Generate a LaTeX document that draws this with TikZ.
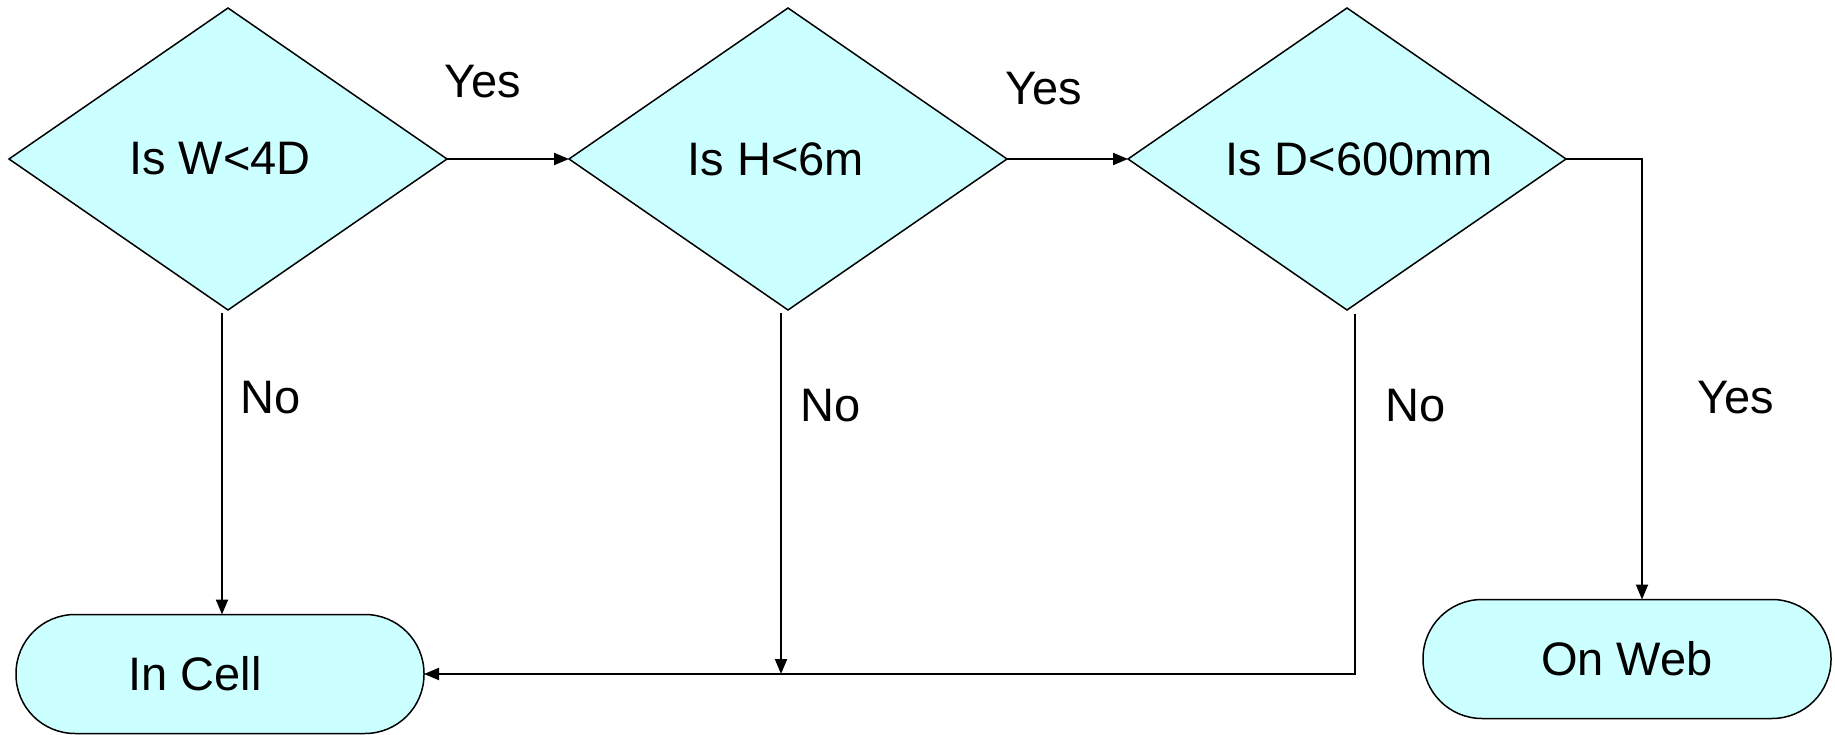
\documentclass[tikz,border=0pt]{standalone}
\usepackage{fontspec}
\setmainfont{Liberation Sans}
\usetikzlibrary{shapes.geometric,arrows.meta}
\definecolor{boxfill}{HTML}{CCFFFF}
\begin{document}
\begin{tikzpicture}[x=1pt,y=1pt,
  decision/.style={diamond,draw=black,fill=boxfill,line width=1.5pt,
    minimum width=438pt,minimum height=302pt,inner sep=0pt,outer sep=0pt},
  terminal/.style={rectangle,rounded corners=59pt,draw=black,fill=boxfill,line width=1.5pt,
    minimum width=408pt,minimum height=119pt,inner sep=0pt,outer sep=0pt},
  conn/.style={draw=black,line width=2pt,-{Triangle[length=15pt,width=12pt]}},
  lbl/.style={font=\fontsize{47}{56}\selectfont,inner sep=0pt}]
\useasboundingbox (0,0) rectangle (1835,734);
\node[decision,label={[lbl,xshift=-8pt]center:Is W<4D}] (d1) at (228,575) {};
\node[decision,label={[lbl,xshift=-12pt]center:Is H<6m}] (d2) at (788,575) {};
\node[decision,label={[lbl,xshift=12pt]center:Is D<600mm}] (d3) at (1347,575) {};
\node[terminal,label={[lbl,xshift=-25pt]center:In Cell}] (cell) at (220,60) {};
\node[terminal,label={[lbl]center:On Web}] (web) at (1627,75) {};
\draw[conn] (d1.east) -- (d2.west);
\draw[conn] (d2.east) -- (d3.west);
\draw[conn] (d3.east) -| ([xshift=15pt]web.north);
\draw[conn] ([xshift=-6pt,yshift=-3pt]d1.south) -- ([xshift=-6pt]d1.south |- cell.north);
\draw[conn] ([xshift=-7pt,yshift=-3pt]d2.south) -- ([xshift=-7pt]d2.south |- cell.east);
\draw[conn] ([xshift=8pt,yshift=-4pt]d3.south) |- (cell.east);
\node[lbl] (y1) at (483,652) {Yes};
\node[lbl] (y2) at (1044,645) {Yes};
\node[lbl] (n1) at (271,336) {No};
\node[lbl] (n2) at (831,328) {No};
\node[lbl] (n3) at (1416,328) {No};
\node[lbl] (y3) at (1736,336) {Yes};
\end{tikzpicture}
\end{document}
